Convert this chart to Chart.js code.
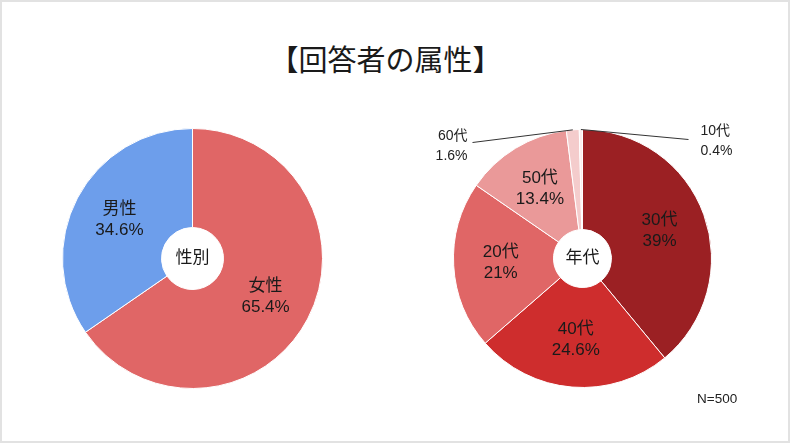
<!DOCTYPE html>
<html>
<head>
<meta charset="utf-8">
<script src="https://cdn.jsdelivr.net/npm/chart.js@4.4.0/dist/chart.umd.min.js"></script>
<style>
  body { margin: 0; background: #fff; }
  #page { position: relative; width: 791px; height: 444px; overflow: hidden; }
  #frame { position: absolute; left: 0; top: 0; width: 790px; height: 443px; box-sizing: border-box; border: 2px solid #e2e2e2; }
  canvas { position: absolute; left: 0; top: 0; }
  #title { position: absolute; left: 0; width: 771px; top: 37px; text-align: center;
    font: 400 29px 'Noto Sans CJK JP', sans-serif; color: #1a1a1a; }
  #note { position: absolute; left: 697px; top: 391px; font: 13.5px 'Liberation Sans', sans-serif; color: #222; }
</style>
</head>
<body>
<div id="page">
  <div id="frame"></div>
  <div id="title">【回答者の属性】</div>
  <canvas id="gender" width="791" height="444"></canvas>
  <canvas id="age" width="791" height="444"></canvas>
  <div id="note">N=500</div>
</div>
<script>
// data
var genderLabels = ['女性', '男性'];
var genderValues = [65.4, 34.6];
var genderColors = ['#E06666', '#6D9EEB'];

var ageLabels = ['30代', '40代', '20代', '50代', '60代', '10代'];
var ageValues = [39, 24.6, 21, 13.4, 1.6, 0.4];
var ageColors = ['#9B2023', '#CE2D2D', '#E06666', '#EA9999', '#F4CCCC', '#FCEDED'];

var centerLabels = ['性別', '年代'];

var FONT = "'Liberation Sans', 'Noto Sans CJK JP', sans-serif";

// draws labels on slices, leader lines for the small ones, and the centre text
var sliceLabels = {
    id: 'sliceLabels',
    afterDatasetsDraw(chart, args, opts) {
        var ctx = chart.ctx;
        var meta = chart.getDatasetMeta(0);
        var values = chart.data.datasets[0].data;
        var labels = chart.data.labels;
        var side = -1;
        ctx.save();
        ctx.textBaseline = 'middle';
        meta.data.forEach(function (arc, i) {
            var p = arc.getProps(['x', 'y', 'startAngle', 'endAngle', 'outerRadius'], true);
            var mid = (p.startAngle + p.endAngle) / 2;
            if (values[i] < 3) {
                var top = p.y - p.outerRadius;
                var sx = p.x + Math.cos(mid) * p.outerRadius;
                var sy = p.y + Math.sin(mid) * p.outerRadius;
                var ex = side < 0 ? p.x - 110 : p.x + 106;
                var ey = side < 0 ? top + 13 : top + 10;
                ctx.strokeStyle = '#333';
                ctx.lineWidth = 1;
                ctx.beginPath();
                ctx.moveTo(sx, sy);
                ctx.lineTo(ex, ey);
                ctx.stroke();
                ctx.fillStyle = '#222';
                ctx.font = '14px ' + FONT;
                ctx.textAlign = side < 0 ? 'right' : 'left';
                var tx = side < 0 ? ex - 5 : ex + 12;
                var ty = side < 0 ? ey - 6 : ey - 8;
                ctx.fillText(labels[i], tx, ty);
                ctx.fillText(values[i] + '%', tx, ty + 20);
                side = -side;
            } else {
                var r = p.outerRadius * 0.635;
                var lx = p.x + Math.cos(mid) * r;
                var ly = p.y + Math.sin(mid) * r;
                ctx.fillStyle = '#1a1a1a';
                ctx.font = '17px ' + FONT;
                ctx.textAlign = 'center';
                ctx.fillText(labels[i], lx, ly - 10.5);
                ctx.fillText(values[i] + '%', lx, ly + 10.5);
            }
        });
        var c = meta.data[0];
        ctx.fillStyle = '#1a1a1a';
        ctx.font = '17px ' + FONT;
        ctx.textAlign = 'center';
        ctx.fillText(opts.center, c.x, c.y);
        ctx.restore();
    }
};

function makeChart(id, labels, values, colors, center, cutout, padding) {
    return new Chart(document.getElementById(id).getContext('2d'), {
        type: 'doughnut',
        data: {
            labels: labels,
            datasets: [{
                data: values,
                backgroundColor: colors,
                borderColor: '#ffffff',
                borderWidth: 1
            }]
        },
        options: {
            responsive: false,
            animation: false,
            cutout: cutout,
            layout: { padding: padding },
            plugins: {
                legend: { display: false },
                tooltip: { enabled: false },
                sliceLabels: { center: center }
            }
        },
        plugins: [sliceLabels]
    });
}

var genderChart = makeChart('gender', genderLabels, genderValues, genderColors, centerLabels[0], 31,
    { left: 62, top: 128, right: 468, bottom: 55 });
var ageChart = makeChart('age', ageLabels, ageValues, ageColors, centerLabels[1], 29,
    { left: 453, top: 129, right: 79, bottom: 56 });
</script>
</body>
</html>
